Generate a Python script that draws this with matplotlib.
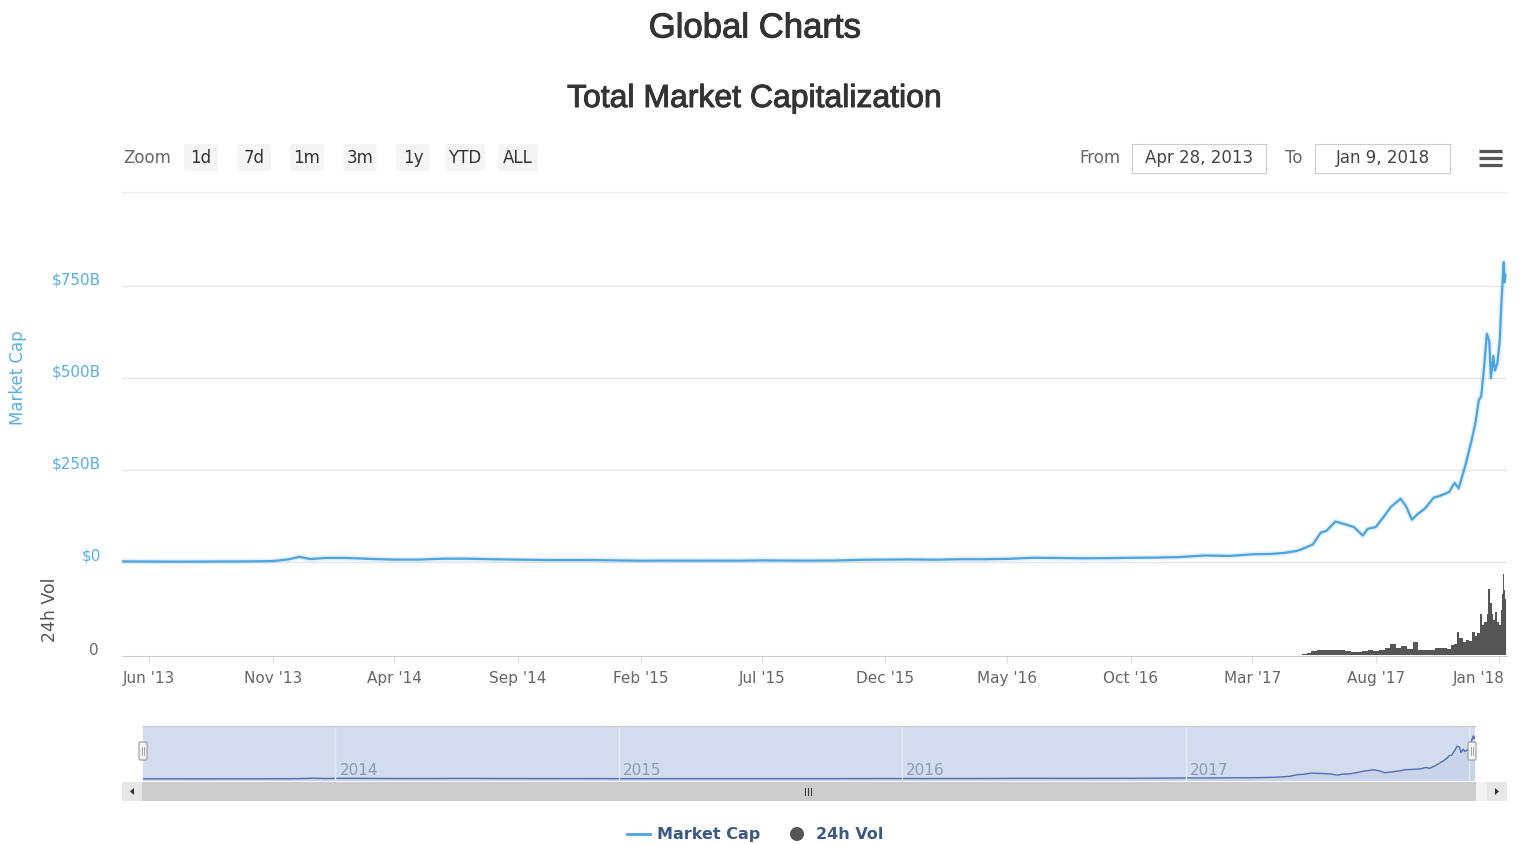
import numpy as np
import pandas as pd
import matplotlib
matplotlib.use('Agg')
import matplotlib.pyplot as plt
import matplotlib.dates as mdates
import matplotlib.patheffects as pe
from matplotlib.transforms import ScaledTranslation
from matplotlib.patches import FancyBboxPatch, Rectangle, Circle, Polygon

W, H = 1523, 845

# total market cap, $B
cap_dates = ['2013-04-28', '2013-06-01', '2013-07-01', '2013-08-01', '2013-09-01', '2013-10-01',
             '2013-11-01', '2013-11-20', '2013-12-04', '2013-12-18', '2014-01-05', '2014-02-01',
             '2014-03-01', '2014-04-01', '2014-05-01', '2014-06-01', '2014-07-01', '2014-08-01',
             '2014-09-01', '2014-10-01', '2014-11-01', '2014-12-01', '2015-01-01', '2015-02-01',
             '2015-03-01', '2015-04-01', '2015-05-01', '2015-06-01', '2015-07-01', '2015-08-01',
             '2015-09-01', '2015-10-01', '2015-11-01', '2015-12-01', '2016-01-01', '2016-02-01',
             '2016-03-01', '2016-04-01', '2016-05-01', '2016-06-01', '2016-07-01', '2016-08-01',
             '2016-09-01', '2016-10-01', '2016-11-01', '2016-12-01', '2017-01-01', '2017-02-01',
             '2017-03-01', '2017-03-25', '2017-04-10', '2017-04-25', '2017-05-05', '2017-05-15',
             '2017-05-25', '2017-06-01', '2017-06-12', '2017-06-20', '2017-06-28', '2017-07-05',
             '2017-07-16', '2017-07-22', '2017-08-01', '2017-08-10', '2017-08-20', '2017-09-01',
             '2017-09-08', '2017-09-15', '2017-09-22', '2017-10-01', '2017-10-12', '2017-10-20',
             '2017-10-31', '2017-11-07', '2017-11-12', '2017-11-20', '2017-11-28', '2017-12-03',
             '2017-12-07', '2017-12-10', '2017-12-14', '2017-12-17', '2017-12-20', '2017-12-22',
             '2017-12-25', '2017-12-27', '2017-12-30', '2018-01-02', '2018-01-04', '2018-01-06',
             '2018-01-07', '2018-01-08', '2018-01-09']
cap_values = [1.6, 1.3, 1.0, 1.1, 1.5, 1.6,
              2.6, 7.0, 14.0, 8.0, 11.0, 11.0,
              8.5, 6.5, 6.5, 9.0, 9.0, 7.5,
              6.5, 5.5, 5.3, 5.5, 4.5, 3.5,
              3.8, 3.6, 3.7, 3.6, 4.5, 3.9,
              3.8, 4.2, 5.9, 6.5, 7.0, 6.2,
              7.5, 7.5, 8.5, 11.5, 11.0, 10.0,
              10.5, 11.5, 12.0, 13.5, 17.7, 16.5,
              21.0, 22.0, 25.0, 30.0, 38.0, 48.0,
              80.0, 85.0, 110.0, 105.0, 100.0, 95.0,
              72.0, 90.0, 95.0, 120.0, 150.0, 172.0,
              150.0, 115.0, 130.0, 145.0, 175.0, 180.0,
              190.0, 215.0, 200.0, 260.0, 330.0, 380.0,
              440.0, 450.0, 540.0, 620.0, 600.0, 500.0,
              560.0, 520.0, 540.0, 600.0, 700.0, 780.0,
              815.0, 760.0, 780.0]

# 24h volume, $B
vol_dates = ['2017-05-01', '2017-05-08', '2017-05-13', '2017-05-20', '2017-05-27', '2017-06-03',
             '2017-06-10', '2017-06-17', '2017-06-24', '2017-07-01', '2017-07-08', '2017-07-15',
             '2017-07-22', '2017-07-29', '2017-08-05', '2017-08-12', '2017-08-19', '2017-08-26',
             '2017-09-02', '2017-09-09', '2017-09-16', '2017-09-23', '2017-09-30', '2017-10-07',
             '2017-10-14', '2017-10-21', '2017-10-28', '2017-11-02', '2017-11-06', '2017-11-10',
             '2017-11-13', '2017-11-17', '2017-11-21', '2017-11-25', '2017-11-29', '2017-12-02',
             '2017-12-05', '2017-12-08', '2017-12-11', '2017-12-14', '2017-12-17', '2017-12-19',
             '2017-12-21', '2017-12-23', '2017-12-25', '2017-12-27', '2017-12-30', '2018-01-01',
             '2018-01-03', '2018-01-05', '2018-01-06', '2018-01-07', '2018-01-08', '2018-01-09']
vol_values = [0.5, 0.8, 2.5, 3.0, 3.5, 3.0,
              3.2, 3.4, 2.5, 2.2, 2.0, 2.4,
              3.0, 2.3, 3.5, 5.0, 8.0, 4.5,
              6.5, 4.0, 9.0, 3.5, 3.0, 3.5,
              4.5, 5.0, 4.0, 7.0, 8.0, 17.0,
              12.0, 9.0, 11.0, 10.0, 17.0, 14.0,
              16.0, 30.0, 22.0, 24.0, 30.0, 49.0,
              38.0, 30.0, 26.0, 32.0, 24.0, 22.0,
              33.0, 45.0, 60.0, 48.0, 50.0, 41.0]

tick_months = ['2013-06-01', '2013-11-01', '2014-04-01', '2014-09-01', '2015-02-01', '2015-07-01',
               '2015-12-01', '2016-05-01', '2016-10-01', '2017-03-01', '2017-08-01', '2018-01-01']
tick_labels = ["Jun '13", "Nov '13", "Apr '14", "Sep '14", "Feb '15", "Jul '15",
               "Dec '15", "May '16", "Oct '16", "Mar '17", "Aug '17", "Jan '18"]
cap_ticks = [0, 250, 500, 750]
cap_tick_labels = ['$0', '$250B', '$500B', '$750B']
zoom_buttons = ['1d', '7d', '1m', '3m', '1y', 'YTD', 'ALL']
nav_years = ['2014', '2015', '2016', '2017', '2018']

BLUE = '#4ba4de'
AXIS_BLUE = '#5aaee6'
GREY_TXT = '#666666'

cap_x = mdates.date2num(pd.to_datetime(cap_dates))
vol_x = mdates.date2num(pd.to_datetime(vol_dates))
vol_w = np.append(np.diff(vol_x), 1.0)
tick_x = mdates.date2num(pd.to_datetime(tick_months))
x_lo = mdates.date2num(pd.Timestamp('2013-04-28'))
x_hi = mdates.date2num(pd.Timestamp('2018-01-11'))

fig = plt.figure(figsize=(W / 100, H / 100), dpi=100)
fig.patch.set_facecolor('white')


def px_axes(x0, y0, x1, y1):
    return fig.add_axes([x0 / W, 1 - y1 / H, (x1 - x0) / W, (y1 - y0) / H])


def pixel_overlay(z):
    a = px_axes(0, 0, W, H)
    a.set_xlim(0, W)
    a.set_ylim(H, 0)
    a.axis('off')
    a.set_zorder(z)
    return a


def lift(labels, dy_px, dx_px=0):
    for lbl in labels:
        lbl.set_transform(lbl.get_transform() + ScaledTranslation(dx_px / 100, dy_px / 100, fig.dpi_scale_trans))


# pixel-space layers for toolbar, navigator chrome and legend
ov = pixel_overlay(-1)
top = pixel_overlay(5)

# main pane
ax = px_axes(122, 250, 1507, 565)
ax.patch.set_alpha(0)
ax.plot(cap_x, cap_values, color=BLUE, lw=4, alpha=0.15, solid_capstyle='round')
ax.plot(cap_x, cap_values, color=BLUE, lw=1.6)
ax.set_xlim(x_lo, x_hi)
ax.set_ylim(-5.4, 850.6)
ax.set_yticks(cap_ticks)
ax.set_yticklabels(cap_tick_labels)
ax.tick_params(axis='y', length=0, pad=15, labelsize=11, labelcolor=AXIS_BLUE)
lift(ax.get_yticklabels(), 9)
ax.set_xticks([])
ax.grid(axis='y', color='#e6e6e6', lw=1)
ax.set_axisbelow(True)
for s in ax.spines.values():
    s.set_visible(False)

# volume pane
axv = px_axes(122, 567, 1507, 657)
axv.patch.set_alpha(0)
axv.bar(vol_x, vol_values, width=vol_w, align='edge', color='#555555', lw=0)
axv.set_xlim(x_lo, x_hi)
axv.set_ylim(-1.1, 65.9)
axv.set_yticks([0])
axv.set_yticklabels(['0'])
axv.tick_params(axis='y', length=0, pad=17, labelsize=11, labelcolor=GREY_TXT)
lift(axv.get_yticklabels(), 7)
axv.set_xticks(tick_x)
axv.set_xticklabels(tick_labels)
axv.tick_params(axis='x', length=5, color='#dddddd', pad=5, labelsize=11, labelcolor=GREY_TXT)
lift(axv.get_xticklabels()[-1:], 0, -20)
for name, s in axv.spines.items():
    s.set_visible(name == 'bottom')
axv.spines['bottom'].set_color('#cccccc')

fig.text(18 / W, 1 - 378 / H, 'Market Cap', rotation=90, ha='center', va='center',
         fontsize=12, color=AXIS_BLUE)
fig.text(50 / W, 1 - 610 / H, '24h Vol', rotation=90, ha='center', va='center',
         fontsize=12.5, color='#555555')

# titles
heavy = [pe.withStroke(linewidth=0.7, foreground='#333333')]
fig.text(755 / W, 1 - 29 / H, 'Global Charts', ha='center', va='center',
         fontsize=25, color='#333333', family='Liberation Sans', path_effects=heavy)
fig.text(755 / W, 1 - 100 / H, 'Total Market Capitalization', ha='center', va='center',
         fontsize=23, color='#333333', family='Liberation Sans', path_effects=heavy)

# range selector toolbar
ov.text(147, 158, 'Zoom', ha='center', va='center', fontsize=12, color=GREY_TXT)
for bx, lab in zip([201, 254, 307, 360, 413, 465, 518], zoom_buttons):
    bw = 40 if len(lab) > 2 else 34
    ov.add_patch(FancyBboxPatch((bx - bw / 2, 145), bw, 27, boxstyle='round,pad=0,rounding_size=3',
                                fc='#f5f5f5', ec='none'))
    ov.text(bx, 158, lab, ha='center', va='center', fontsize=12, color='#333333')

ov.text(1100, 158, 'From', ha='center', va='center', fontsize=12, color=GREY_TXT)
ov.text(1294, 158, 'To', ha='center', va='center', fontsize=12, color=GREY_TXT)
for x0, x1, lab in [(1132, 1266, 'Apr 28, 2013'), (1315, 1450, 'Jan 9, 2018')]:
    ov.add_patch(Rectangle((x0, 145), x1 - x0, 29, fc='white', ec='#cccccc', lw=0.8))
    ov.text((x0 + x1) / 2, 158, lab, ha='center', va='center', fontsize=12, color='#444444')
for hy in [152, 159, 166]:
    ov.plot([1479, 1502], [hy, hy], color='#555555', lw=2.3, solid_capstyle='butt')
ov.plot([122, 1507], [193, 193], color='#eeeeee', lw=1)

# navigator
nav = px_axes(143, 727, 1475, 782)
nav.set_facecolor('#d3dcee')
nav.fill_between(cap_x, cap_values, -40, color='#335cad', alpha=0.06, lw=0)
nav.plot(cap_x, cap_values, color='#4d6fb5', lw=1)
nav.set_xlim(x_lo, mdates.date2num(pd.Timestamp('2018-01-09')))
nav.set_ylim(-40, 1000)
nav.set_xticks([])
nav.set_yticks([])
for s in nav.spines.values():
    s.set_visible(False)
for yr in nav_years:
    xd = mdates.date2num(pd.Timestamp(yr + '-01-01'))
    nav.axvline(xd, color='#e4e9f4', lw=1)
    nav.text(xd + 6, 0.2, yr, transform=nav.get_xaxis_transform(), ha='left', va='center',
             fontsize=11, color='#8c9ab5', clip_on=True)
top.plot([143, 1475], [727, 727], color='#c8c8c8', lw=0.8)
for hx in [143, 1472]:
    top.add_patch(FancyBboxPatch((hx - 4, 743), 8, 18, boxstyle='round,pad=0,rounding_size=1.5',
                                 fc='#f2f2f2', ec='#999999', lw=0.8))
    top.plot([hx - 1, hx - 1], [748, 756], color='#999999', lw=0.6)
    top.plot([hx + 1, hx + 1], [748, 756], color='#999999', lw=0.6)

# scrollbar
ov.add_patch(Rectangle((122, 783), 1385, 19, fc='#f2f2f2', ec='none'))
ov.add_patch(Rectangle((142, 783), 1334, 19, fc='#cccccc', ec='none'))
ov.add_patch(Rectangle((122, 783), 20, 19, fc='#e6e6e6', ec='none'))
ov.add_patch(Rectangle((1487, 783), 20, 19, fc='#e6e6e6', ec='none'))
ov.add_patch(Polygon([[134, 789], [134, 796], [130, 792.5]], closed=True, fc='#333333', ec='none'))
ov.add_patch(Polygon([[1495, 789], [1495, 796], [1499, 792.5]], closed=True, fc='#333333', ec='none'))
for gx in [805, 808, 811]:
    ov.plot([gx, gx], [789, 796], color='#333333', lw=0.7)

# legend
ov.plot([627, 650], [835, 835], color=BLUE, lw=2)
ov.text(657, 835, 'Market Cap', ha='left', va='center', fontsize=11.5, fontweight='bold',
        color='#3a5a85')
ov.add_patch(Circle((797, 835), 7, fc='#555555', ec='none'))
ov.text(816, 835, '24h Vol', ha='left', va='center', fontsize=11.5, fontweight='bold',
        color='#3a5a85')

fig.savefig('out.png', dpi=100, facecolor='white')
